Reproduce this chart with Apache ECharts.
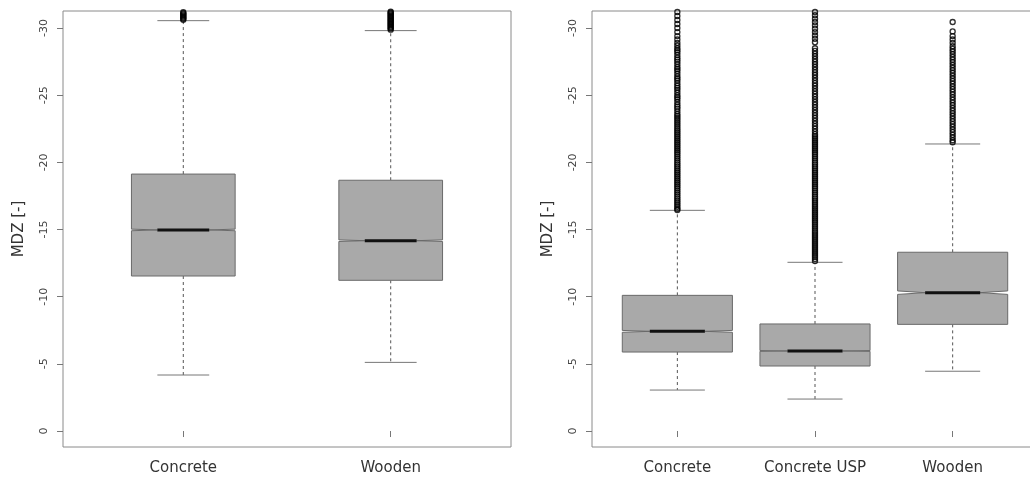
<!DOCTYPE html>
<html><head><meta charset="utf-8">
<script src="https://cdn.jsdelivr.net/npm/echarts@6/dist/echarts.min.js"></script>
<style>html,body{margin:0;padding:0;background:#fff}#c{width:1030px;height:482px}</style>
</head><body><div id="c"></div>
<script>
// ---------- DATA ----------
const yTicks = [0, -5, -10, -15, -20, -25, -30];
const yTitle = 'MDZ [-]';

const leftCategories = ['Concrete', 'Wooden'];
const leftLowerWhisker = [-4.17, -5.11];
const leftQ1 = [-11.54, -11.22];
const leftMedian = [-14.97, -14.17];
const leftQ3 = [-19.13, -18.67];
const leftUpperWhisker = [-30.55, -29.81];
const leftNotch = [0.06, 0.06];
const leftConcreteOutliers = [-30.62, -30.7, -30.78, -30.86, -30.94, -31.02, -31.1, -31.18];
const leftWoodenOutliers = [-29.88, -29.96, -30.04, -30.12, -30.2, -30.28, -30.36, -30.44, -30.52, -30.6, -30.68, -30.76, -30.84, -30.92, -31.0, -31.08, -31.16, -31.22];

const rightCategories = ['Concrete', 'Concrete USP', 'Wooden'];
const rightLowerWhisker = [-3.05, -2.38, -4.45];
const rightQ1 = [-5.88, -4.84, -7.94];
const rightMedian = [-7.42, -5.96, -10.30];
const rightQ3 = [-10.10, -7.97, -13.31];
const rightUpperWhisker = [-16.43, -12.56, -21.37];
const rightNotch = [0.07, 0.03, 0.13];
const rightConcreteOutliers = [
  -31.2, -30.9, -30.6, -30.3, -30.0, -29.7, -29.4, -29.15,
  -28.9, -28.7, -28.5, -28.35, -28.2, -28.0, -27.8, -27.65, -27.5, -27.3, -27.1, -26.95, -26.8, -26.6,
  -26.4, -26.25, -26.1, -25.9, -25.7, -25.55, -25.4, -25.2, -25.0, -24.85, -24.7, -24.5, -24.3, -24.15,
  -24.0, -23.8, -23.6,
  -23.45, -23.3, -23.15, -23.0, -22.85, -22.7, -22.55, -22.4, -22.25, -22.1, -21.95, -21.8, -21.65,
  -21.5, -21.35, -21.2, -21.05, -20.9, -20.75, -20.6, -20.45, -20.3, -20.15, -20.0, -19.85, -19.7,
  -19.55, -19.4, -19.25, -19.1, -18.95, -18.8, -18.65, -18.5, -18.35, -18.2, -18.05, -17.9, -17.75,
  -17.6, -17.45, -17.3, -17.15, -17.0, -16.85, -16.7, -16.55, -16.45
];
const rightUspOutliers = [
  -31.2, -30.95, -30.7, -30.45, -30.2, -29.95, -29.7, -29.45, -29.2, -28.95,
  -28.5, -28.3, -28.1, -27.9, -27.7, -27.5, -27.3, -27.1, -26.9, -26.7, -26.5, -26.3, -26.1, -25.9,
  -25.7, -25.5, -25.3, -25.1, -24.9, -24.7, -24.5, -24.3, -24.1, -23.9, -23.7, -23.5, -23.3, -23.1,
  -22.9, -22.7, -22.5, -22.3, -22.1,
  -21.95, -21.8, -21.65, -21.5, -21.35, -21.2, -21.05, -20.9, -20.75, -20.6, -20.45, -20.3, -20.15,
  -20.0, -19.85, -19.7, -19.55, -19.4, -19.25, -19.1, -18.95, -18.8, -18.65, -18.5, -18.35, -18.2,
  -18.05, -17.9, -17.75, -17.6, -17.45, -17.3, -17.15, -17.0, -16.85, -16.7, -16.55, -16.4, -16.25,
  -16.1, -15.95, -15.8, -15.65, -15.5, -15.35, -15.2, -15.05, -14.9, -14.75, -14.6, -14.45, -14.3,
  -14.15, -14.0, -13.85, -13.7, -13.55, -13.4, -13.25, -13.1, -12.95, -12.8, -12.65
];
const rightWoodenOutliers = [
  -30.45, -29.75, -29.4, -29.15, -28.9, -28.65, -28.45, -28.25, -28.05, -27.85, -27.65, -27.45,
  -27.25, -27.05, -26.85, -26.65, -26.45, -26.25, -26.05, -25.85, -25.65, -25.45, -25.25, -25.05,
  -24.85, -24.65, -24.45, -24.25, -24.05, -23.85, -23.65, -23.45, -23.25, -23.05, -22.85, -22.65,
  -22.45, -22.25, -22.05, -21.85, -21.65, -21.5
];

// ---------- CHART ----------
const FONT = 'DejaVu Sans';
const Y_MIN = -31.27, Y_MAX = 1.19;

function boxRows(lw, q1, med, q3, uw, notch) {
  return lw.map((v, i) => [i + 1, lw[i], q1[i], med[i], q3[i], uw[i], notch[i]]);
}
function outlierRows(groups) {
  const out = [];
  groups.forEach((g, i) => g.forEach(v => out.push([i + 1, v])));
  return out;
}
function makeRender(halfW) {
  return function (params, api) {
    const x = api.value(0), lo = api.value(1), q1 = api.value(2), med = api.value(3),
          q3 = api.value(4), hi = api.value(5), nh = api.value(6);
    const P = (a, b) => api.coord([a, b]);
    const hw = halfW, qw = halfW / 2;
    const line = (p1, p2, style) => ({ type: 'line', shape: { x1: p1[0], y1: p1[1], x2: p2[0], y2: p2[1] }, style });
    const dashStyle = { stroke: '#555', lineWidth: 1, lineDash: [3, 3] };
    const capStyle = { stroke: '#777', lineWidth: 1 };
    const poly = [P(x - hw, q1), P(x + hw, q1), P(x + hw, med + nh), P(x + qw, med), P(x + hw, med - nh),
                  P(x + hw, q3), P(x - hw, q3), P(x - hw, med - nh), P(x - qw, med), P(x - hw, med + nh)];
    return {
      type: 'group',
      children: [
        line(P(x, q3), P(x, hi), dashStyle),
        line(P(x, q1), P(x, lo), dashStyle),
        line(P(x - qw, hi), P(x + qw, hi), capStyle),
        line(P(x - qw, lo), P(x + qw, lo), capStyle),
        { type: 'polygon', shape: { points: poly }, style: { fill: '#a9a9a9', stroke: '#6a6a6a', lineWidth: 1 } },
        line(P(x - qw, med), P(x + qw, med), { stroke: '#111', lineWidth: 3 })
      ]
    };
  };
}
function yAxisCfg(gridIndex) {
  return {
    type: 'value', gridIndex, inverse: true, min: Y_MIN, max: Y_MAX,
    name: yTitle, nameLocation: 'middle', nameRotate: 90, nameGap: 36,
    nameTextStyle: { fontFamily: FONT, fontSize: 15, color: '#333' },
    axisLine: { show: false },
    axisTick: { show: true, length: 6, customValues: yTicks, lineStyle: { color: '#777' } },
    axisLabel: { customValues: yTicks, rotate: 90, margin: 13, fontFamily: FONT, fontSize: 11, color: '#444',
                 formatter: v => String(v) },
    splitLine: { show: false }
  };
}
function xAxisCfg(gridIndex, cats, min, max) {
  const vals = cats.map((c, i) => i + 1);
  return {
    type: 'value', gridIndex, min, max,
    axisLine: { show: false },
    axisTick: { show: true, length: 6, customValues: vals, lineStyle: { color: '#777' } },
    axisLabel: { customValues: vals, margin: 14, fontFamily: FONT, fontSize: 15, color: '#333',
                 formatter: v => cats[Math.round(v) - 1] || '' },
    splitLine: { show: false }
  };
}
const scatterStyle = { color: 'rgba(0,0,0,0)', borderColor: '#000', borderWidth: 1.4 };

const option = {
  animation: false,
  backgroundColor: '#fff',
  grid: [
    { left: 63, top: 11, width: 448, height: 436, show: true, borderColor: '#8a8a8a', borderWidth: 1,
      backgroundColor: 'transparent', outerBoundsMode: 'none', containLabel: false },
    { left: 592, top: 11, width: 446, height: 436, show: true, borderColor: '#8a8a8a', borderWidth: 1,
      backgroundColor: 'transparent', outerBoundsMode: 'none', containLabel: false }
  ],
  xAxis: [xAxisCfg(0, leftCategories, 0.42, 2.58), xAxisCfg(1, rightCategories, 0.38, 3.62)],
  yAxis: [yAxisCfg(0), yAxisCfg(1)],
  series: [
    { type: 'custom', xAxisIndex: 0, yAxisIndex: 0, renderItem: makeRender(0.25), encode: { x: 0, y: [1, 2, 3, 4, 5] },
      data: boxRows(leftLowerWhisker, leftQ1, leftMedian, leftQ3, leftUpperWhisker, leftNotch), silent: true },
    { type: 'scatter', xAxisIndex: 0, yAxisIndex: 0, symbol: 'circle', symbolSize: 5, itemStyle: scatterStyle, silent: true,
      data: outlierRows([leftConcreteOutliers, leftWoodenOutliers]) },
    { type: 'custom', xAxisIndex: 1, yAxisIndex: 1, renderItem: makeRender(0.4), encode: { x: 0, y: [1, 2, 3, 4, 5] },
      data: boxRows(rightLowerWhisker, rightQ1, rightMedian, rightQ3, rightUpperWhisker, rightNotch), silent: true },
    { type: 'scatter', xAxisIndex: 1, yAxisIndex: 1, symbol: 'circle', symbolSize: 5, itemStyle: scatterStyle, silent: true,
      data: outlierRows([rightConcreteOutliers, rightUspOutliers, rightWoodenOutliers]) }
  ]
};
const chart = echarts.init(document.getElementById('c'));
chart.setOption(option);
</script>
</body></html>
